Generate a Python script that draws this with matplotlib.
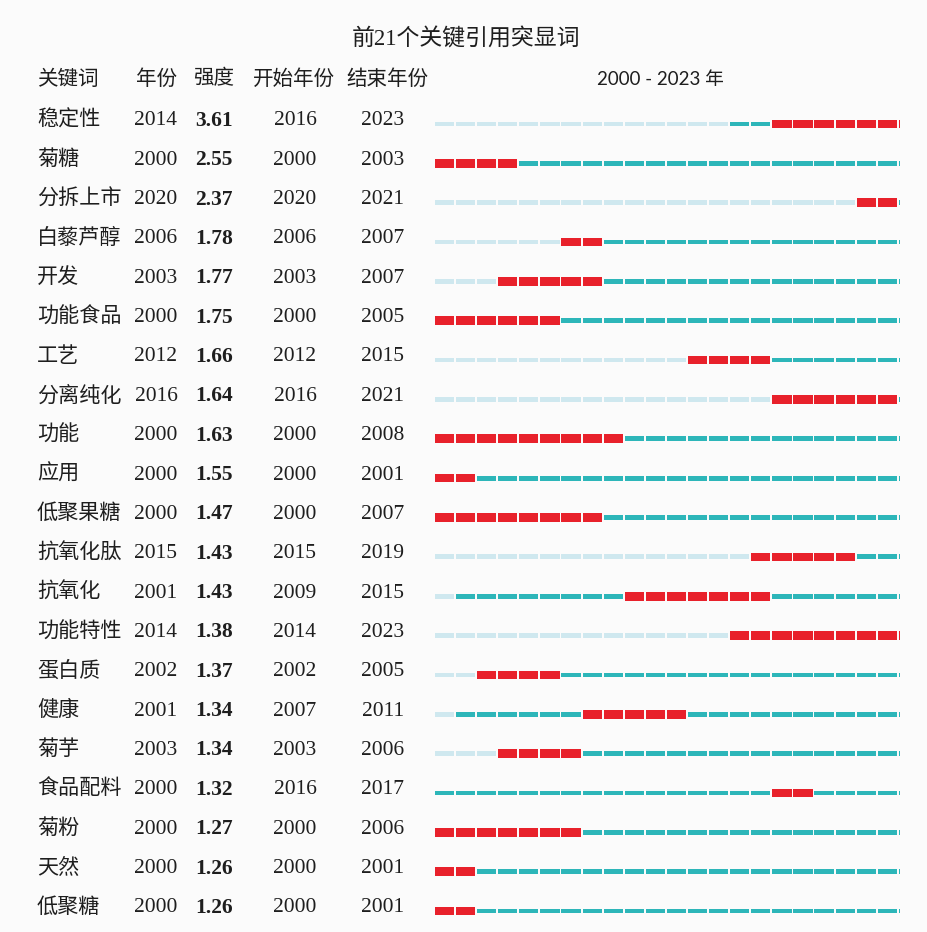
import numpy as np
import matplotlib.pyplot as plt
from matplotlib.transforms import blended_transform_factory

plt.rcParams['font.family'] = ['Liberation Serif', 'Noto Sans CJK SC']

keywords = ['稳定性', '菊糖', '分拆上市', '白藜芦醇', '开发', '功能食品', '工艺',
            '分离纯化', '功能', '应用', '低聚果糖', '抗氧化肽', '抗氧化', '功能特性',
            '蛋白质', '健康', '菊芋', '食品配料', '菊粉', '天然', '低聚糖']
first_year = [2014, 2000, 2020, 2006, 2003, 2000, 2012, 2016, 2000, 2000, 2000,
              2015, 2001, 2014, 2002, 2001, 2003, 2000, 2000, 2000, 2000]
strength = [3.61, 2.55, 2.37, 1.78, 1.77, 1.75, 1.66, 1.64, 1.63, 1.55, 1.47,
            1.43, 1.43, 1.38, 1.37, 1.34, 1.34, 1.32, 1.27, 1.26, 1.26]
begin = [2016, 2000, 2020, 2006, 2003, 2000, 2012, 2016, 2000, 2000, 2000,
         2015, 2009, 2014, 2002, 2007, 2003, 2016, 2000, 2000, 2000]
end = [2023, 2003, 2021, 2007, 2007, 2005, 2015, 2021, 2008, 2001, 2007,
       2019, 2015, 2023, 2005, 2011, 2006, 2017, 2006, 2001, 2001]
years = np.arange(2000, 2024)

c_light = '#cfe8ef'
c_teal = '#2db6b9'
c_red = '#e8212b'
c_text = '#1e1e1e'
bg = '#fbfbfb'

fig = plt.figure(figsize=(9.28, 9.32), dpi=100, facecolor=bg)
W, H = 928, 932
row_h = 39.35
top_row = 124
n = len(keywords)
ax_top = top_row - 0.5 * row_h
ax_bot = top_row + (n - 0.5) * row_h
ax = fig.add_axes([434 / W, 1 - ax_bot / H, 466 / W, (ax_bot - ax_top) / H])
ax.set_facecolor(bg)
ax.set_xlim(2000, 2022.1)
ax.set_ylim(n - 0.5, -0.5)
ax.axis('off')

gap = 0.09
for i in range(n):
    for y in years:
        if begin[i] <= y <= end[i]:
            ax.barh(i, 1 - gap, left=y + gap / 2, height=0.22, color=c_red, lw=0)
        elif y >= first_year[i]:
            ax.barh(i, 1 - gap, left=y + gap / 2, height=0.12, color=c_teal, lw=0)
        else:
            ax.barh(i, 1 - gap, left=y + gap / 2, height=0.12, color=c_light, lw=0)

tr = blended_transform_factory(fig.transFigure, ax.transData)
fs = 15.5
fs_cn = 15.2
dy = -0.08
for i in range(n):
    ax.text(37 / W, i + dy, keywords[i], transform=tr, ha='left', va='center',
            fontsize=fs_cn, color=c_text)
    ax.text(156 / W, i + dy, str(first_year[i]), transform=tr, ha='center', va='center',
            fontsize=fs, color=c_text)
    ax.text(195 / W, i + dy, '%.2f' % strength[i], transform=tr, ha='left', va='center',
            fontsize=fs, color=c_text, fontweight='bold')
    ax.text(295 / W, i + dy, str(begin[i]), transform=tr, ha='center', va='center',
            fontsize=fs, color=c_text)
    ax.text(383 / W, i + dy, str(end[i]), transform=tr, ha='center', va='center',
            fontsize=fs, color=c_text)

hy = 1 - 80 / H
fsh = 14.8
fig.text(37 / W, hy, '关键词', ha='left', va='center', fontsize=fsh, color=c_text)
fig.text(157 / W, hy, '年份', ha='center', va='center', fontsize=fsh, color=c_text)
fig.text(214 / W, hy, '强度', ha='center', va='center', fontsize=fsh, color=c_text)
fig.text(294 / W, hy, '开始年份', ha='center', va='center', fontsize=fsh, color=c_text)
fig.text(387 / W, hy, '结束年份', ha='center', va='center', fontsize=fsh, color=c_text)
fig.text(660 / W, hy, '%d - %d 年' % (years[0], years[-1]), ha='center', va='center',
         fontsize=13.5, color=c_text, family=['Lato', 'Noto Sans CJK SC'])
fig.text(466 / W, 1 - 40 / H, '前21个关键引用突显词', ha='center', va='center',
         fontsize=16.5, color=c_text)

fig.savefig('out.png', dpi=100, facecolor=bg)
